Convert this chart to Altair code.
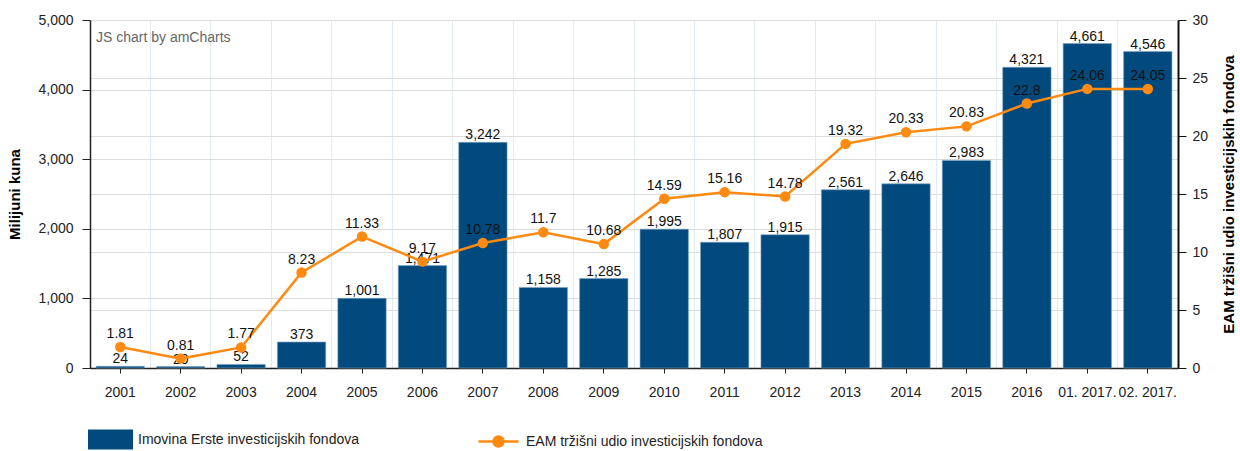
import altair as alt
import pandas as pd

categories = ["2001", "2002", "2003", "2004", "2005", "2006", "2007", "2008", "2009",
              "2010", "2011", "2012", "2013", "2014", "2015", "2016", "01. 2017.", "02. 2017."]
assets = [24, 20, 52, 373, 1001, 1471, 3242, 1158, 1285, 1995, 1807, 1915, 2561, 2646,
          2983, 4321, 4661, 4546]
share = [1.81, 0.81, 1.77, 8.23, 11.33, 9.17, 10.78, 11.7, 10.68, 14.59, 15.16, 14.78,
         19.32, 20.33, 20.83, 22.8, 24.06, 24.05]

asset_name = "Imovina Erste investicijskih fondova"
share_name = "EAM tržišni udio investicijskih fondova"

NAVY = "#024a7d"
ORANGE = "#ff8a12"
FONT = "Liberation Sans"
FS = 14

df = pd.DataFrame({"cat": categories, "assets": assets, "share": share})

xscale = alt.Scale(paddingInner=0.2, paddingOuter=0.1)

x_main = alt.X("cat:N", sort=categories, scale=xscale,
               axis=alt.Axis(title=None, labelAngle=0, grid=False, domainColor="#222",
                             domainWidth=1.5, tickColor="#222", tickSize=5,
                             labelFontSize=FS, labelColor="#222", labelPadding=12,
                             labelFont=FONT))
x_grid = alt.X("cat:N", sort=categories, scale=xscale,
               axis=alt.Axis(title=None, orient="top", grid=True, gridColor="#e2eaf2",
                             bandPosition=-0.125, labels=False, ticks=False, domain=False))

yleft = alt.Scale(domain=[0, 5000], nice=False)
yright = alt.Scale(domain=[0, 30], nice=False)

y_assets = alt.Y("assets:Q", scale=yleft,
                 axis=alt.Axis(title="Milijuni kuna", values=[0, 1000, 2000, 3000, 4000, 5000],
                               format=",.0f", grid=True, gridColor="#dddddd",
                               domainColor="#222", domainWidth=1.5, tickColor="#222",
                               tickSize=8, labelPadding=9, labelFontSize=FS,
                               labelColor="#222", labelFont=FONT, titleFont=FONT,
                               titleFontSize=15, titleFontWeight="bold", titleColor="#000",
                               titlePadding=15))
y_share = alt.Y("share:Q", scale=yright,
                axis=alt.Axis(title=share_name, orient="right",
                              values=[0, 5, 10, 15, 20, 25, 30], format=".0f", grid=True,
                              gridColor="#dddddd", domainColor="#111", domainWidth=2,
                              tickColor="#111", tickSize=8, labelPadding=6, labelFontSize=FS,
                              labelColor="#222", labelFont=FONT, titleFont=FONT,
                              titleFontSize=15, titleFontWeight="bold", titleColor="#000",
                              titleAngle=270, titlePadding=29))

bars = alt.Chart(df).mark_bar(stroke="#7aa2c2", strokeWidth=0.6).encode(
    x=x_main,
    y=y_assets,
    color=alt.Color("n:N", scale=alt.Scale(domain=[asset_name], range=[NAVY]),
                    legend=alt.Legend(title=None, orient="none", legendX=-2, legendY=397,
                                      symbolType="M-1,-0.444H1V0.444H-1Z", symbolSize=2025,
                                      symbolStrokeWidth=0, labelFontSize=FS, labelFont=FONT,
                                      labelColor="#222", labelOffset=5, labelLimit=400,
                                      padding=0)),
).transform_calculate(n=f"'{asset_name}'")

bar_text = alt.Chart(df).mark_text(baseline="alphabetic", dy=-3, fontSize=FS, font=FONT,
                                   color="#111").encode(
    x=x_main,
    y=y_assets,
    text=alt.Text("assets:Q", format=","),
)

left = alt.layer(bars, bar_text)

line = alt.Chart(df).mark_line(strokeWidth=2.5).encode(
    x=x_grid,
    y=y_share,
    stroke=alt.Stroke("n:N", scale=alt.Scale(domain=[share_name], range=[ORANGE]),
                      legend=alt.Legend(title=None, orient="none", legendX=387, legendY=400,
                                        symbolType="M-1,0H1M-0.25,0A0.25,0.25 0 1,1 0.25,0A0.25,0.25 0 1,1 -0.25,0Z",
                                        symbolSize=1600, symbolStrokeWidth=2.5,
                                        symbolFillColor=ORANGE, labelFontSize=FS,
                                        labelFont=FONT, labelColor="#222", labelOffset=6,
                                        labelLimit=400, padding=0)),
).transform_calculate(n=f"'{share_name}'")

points = alt.Chart(df).mark_circle(size=110, opacity=1, color=ORANGE).encode(
    x=x_grid,
    y=y_share,
)

line_text = alt.Chart(df).mark_text(baseline="alphabetic", dy=-9, fontSize=FS, font=FONT,
                                    color="#111").encode(
    x=x_grid,
    y=y_share,
    text=alt.Text("share:Q"),
)

right = alt.layer(line, points, line_text)

watermark = alt.Chart(pd.DataFrame({"t": ["JS chart by amCharts"]})).mark_text(
    align="left", baseline="middle", fontSize=FS, font=FONT, color="#666"
).encode(x=alt.value(6), y=alt.value(18), text="t:N")

chart = alt.layer(left, right, watermark).resolve_scale(
    y="independent", color="independent", stroke="independent"
).resolve_axis(x="independent", y="independent").properties(
    width=1088, height=348,
    autosize=alt.AutoSizeParams(type="none"),
    padding={"left": 90, "top": 20, "right": 62, "bottom": 83},
).configure_view(stroke=None).configure(background="white")

chart.save("out.html", embed_options={"renderer": "svg", "actions": False})
